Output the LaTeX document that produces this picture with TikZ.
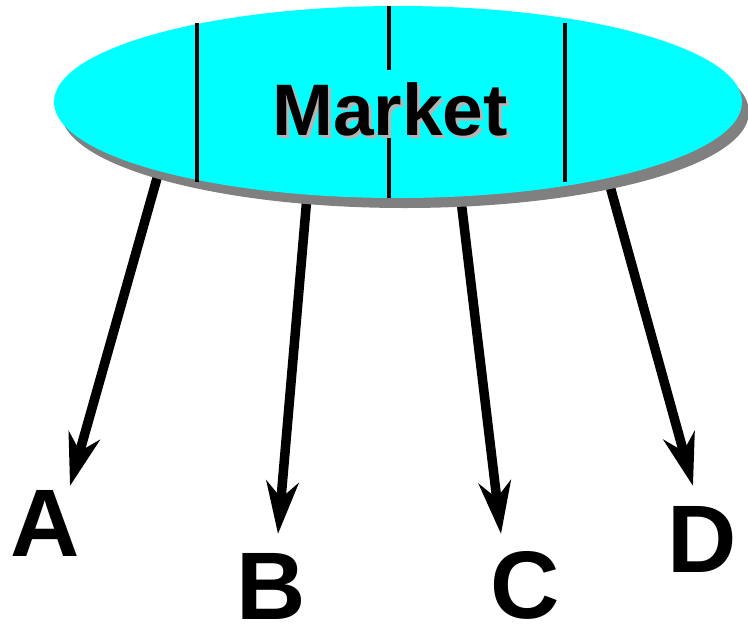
\documentclass[tikz,border=0pt]{standalone}
\usepackage{fontspec}
\setmainfont{Liberation Sans}
\usetikzlibrary{positioning,arrows.meta,shapes.geometric,shadows}
\definecolor{marketcyan}{HTML}{00FFFF}
\definecolor{marketshadow}{HTML}{808080}
\definecolor{textshadow}{HTML}{B4B4B4}
\begin{document}
\begin{tikzpicture}[x=1pt,y=-1pt,
    flow/.style={line width=9.5pt,-{Stealth[length=52pt,width=32pt,inset=16pt]}},
    divider/.style={line width=4pt},
    bigletter/.style={font=\fontsize{96}{96}\selectfont\bfseries,inner sep=0pt},
    marketfont/.style={font=\fontsize{73}{73}\selectfont\bfseries,inner sep=0pt}]
   \useasboundingbox (0,0) rectangle (748,625);
   % arrow ends
   \coordinate (sA) at (165,150);
   \coordinate (sB) at (311,150);
   \coordinate (sC) at (455,150);
   \coordinate (sD) at (600,150);
   \coordinate (tA) at (70,486);
   \coordinate (tB) at (278,534);
   \coordinate (tC) at (501,534);
   \coordinate (tD) at (693,486);
   \draw[flow] (sA) -- (tA);
   \draw[flow] (sB) -- (tB);
   \draw[flow] (sC) -- (tC);
   \draw[flow] (sD) -- (tD);
   % the market
   \node[ellipse, fill=marketcyan, minimum width=688pt, minimum height=192pt, inner sep=0pt,
         drop shadow={shadow xshift=7pt,shadow yshift=-10pt,fill=marketshadow,opacity=1}] (market) at (398,102) {};
   \draw[divider] (197,23) -- (197,182);
   \draw[divider] (565,23) -- (565,182);
   \draw[divider] (389,6) -- (389,70);
   \draw[divider] (389,135) -- (389,198);
   \node[marketfont, text=textshadow] (mshadow) at (393,112) {Market};
   \node[marketfont] (mlabel) at (390,109) {Market};
   % the segments
   \node[bigletter] (A) at (45,523) {A};
   \node[bigletter] (B) at (271,586) {B};
   \node[bigletter] (C) at (525,585) {C};
   \node[bigletter] (D) at (702,539) {D};
\end{tikzpicture}
\end{document}
